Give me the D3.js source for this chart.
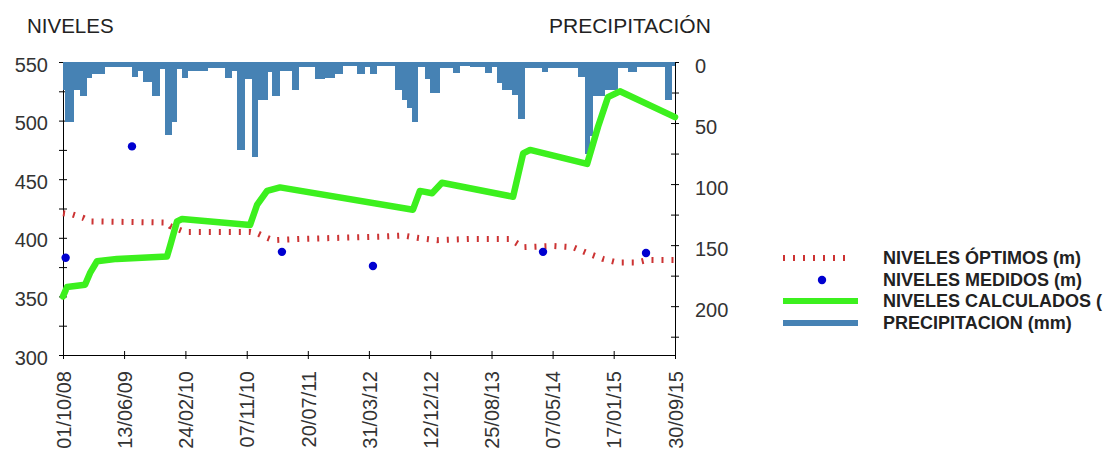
<!DOCTYPE html>
<html><head><meta charset="utf-8">
<script src="https://cdn.jsdelivr.net/npm/d3@7"></script>
<style>
body{margin:0;background:#fff}
svg{display:block}
text{font-family:"Liberation Sans",Arial,sans-serif}
</style>
</head><body>
<svg id="c" width="1119" height="457"></svg>
<script>
// ---------- DATA ----------
const xTickLabels = ["01/10/08","13/06/09","24/02/10","07/11/10","20/07/11","31/03/12","12/12/12","25/08/13","07/05/14","17/01/15","30/09/15"];
const levelTicks = [300,325,350,375,400,425,450,475,500,525,550];
const precipTicks = [0,25,50,75,100,125,150,175,200,225];

const optimoDates = ["2008-10-01","2008-11-08","2008-12-24","2009-01-22","2009-12-09","2009-12-22","2010-02-22","2010-11-21","2010-12-20","2011-01-31","2011-02-25","2011-06-17","2012-05-16","2012-08-21","2012-10-18","2013-01-09","2013-05-27","2013-11-10","2014-01-04","2014-05-09","2014-07-31","2014-09-28","2014-12-03","2015-01-31","2015-04-24","2015-06-05","2015-09-30"];
const optimoValues = [421,420,417,414,413,410,405,405,404,400,398,399,401,402,400,398,399,399,392,393,392,387,382,379,379,381,381];

const medidoDates = ["2008-10-12","2009-07-16","2011-04-03","2012-04-17","2014-03-28","2015-06-01"];
const medidoValues = [383,478,388,376,388,387];

const calcDates = ["2008-10-01","2008-10-18","2009-01-01","2009-01-22","2009-02-20","2009-05-14","2009-12-09","2009-12-22","2010-01-20","2010-02-10","2010-11-21","2010-12-20","2011-01-31","2011-03-26","2012-10-01","2012-10-30","2012-12-20","2013-01-30","2013-11-23","2014-01-04","2014-02-02","2014-09-28","2014-11-13","2014-12-24","2015-02-12","2015-09-30"];
const calcValues = [350,358,360,370,380,382,384,393,414,416,411,428,440,443,424,440,438,447,435,472,475,463,495,520,525,503];

const precipDates = ["2008-10-01","2008-10-09","2008-11-16","2008-12-11","2009-01-09","2009-01-30","2009-03-25","2009-07-16","2009-08-10","2009-08-31","2009-10-08","2009-11-10","2009-12-01","2009-12-30","2010-01-20","2010-02-10","2010-03-07","2010-05-29","2010-08-08","2010-09-07","2010-09-27","2010-10-31","2010-11-29","2010-12-24","2011-02-04","2011-02-21","2011-03-26","2011-05-15","2011-06-13","2011-08-19","2011-09-30","2011-11-11","2011-12-14","2012-02-10","2012-03-15","2012-04-05","2012-05-04","2012-07-18","2012-08-16","2012-09-06","2012-09-27","2012-10-22","2012-11-20","2012-12-11","2013-01-22","2013-03-17","2013-04-15","2013-05-27","2013-07-29","2013-08-27","2013-09-17","2013-10-08","2013-11-19","2013-12-14","2014-01-12","2014-03-24","2014-04-18","2014-08-21","2014-09-19","2014-10-10","2014-10-23","2014-12-12","2015-02-04","2015-03-18","2015-04-24","2015-08-19","2015-09-17"];
const precipValues = [23,49,23,28,13,10,4,12,7,16,28,6,60,49,6,13,7,5,13,7,72,14,78,31,8,28,7,23,4,14,13,10,3,10,4,10,3,23,31,38,49,4,14,25,5,9,3,4,9,4,17,23,27,47,5,8,5,12,75,61,28,23,5,8,4,31,3];

const legendLabels = ["NIVELES ÓPTIMOS (m)","NIVELES MEDIDOS (m)","NIVELES CALCULADOS (","PRECIPITACION (mm)"];

// ---------- CHART ----------
const svg = d3.select("#c");
const pd = d3.timeParse("%Y-%m-%d");
const pl = d3.timeParse("%d/%m/%y");
const L = 63, R = 675, T = 62, B = 355;

const x = d3.scaleTime().domain([pl(xTickLabels[0]), pl(xTickLabels[xTickLabels.length-1])]).range([L, R]);
const yL = d3.scaleLinear().domain([300, 550]).range([B, T]);
const yR = d3.scaleLinear().domain([0, 240]).range([T, B]);

const txt = "#333";

// axes
const gL = svg.append("g").attr("transform", `translate(${L},0)`)
  .call(d3.axisLeft(yL).tickValues(levelTicks).tickSize(0).tickPadding(15)
    .tickFormat(d => d % 50 === 0 ? d : ""));
gL.selectAll(".tick line").attr("x1", -4).attr("x2", 4).attr("stroke", "#000");
gL.select(".domain").attr("stroke", "#000");
gL.selectAll("text").attr("font-size", 20).attr("fill", txt).attr("dy", "0.45em");

const gR = svg.append("g").attr("transform", `translate(${R},0)`)
  .call(d3.axisRight(yR).tickValues(precipTicks).tickSize(0).tickPadding(20)
    .tickFormat(d => d % 50 === 0 ? d : ""));
gR.selectAll(".tick line").attr("x1", -4).attr("x2", 4).attr("stroke", "#000");
gR.select(".domain").attr("stroke", "#000");
gR.selectAll("text").attr("font-size", 20).attr("fill", txt).attr("dy", "0.5em");

const gX = svg.append("g").attr("transform", `translate(0,${B})`)
  .call(d3.axisBottom(x).tickValues(xTickLabels.map(pl)).tickSize(0)
    .tickFormat((d, i) => xTickLabels[i]));
gX.selectAll(".tick line").attr("y1", -4).attr("y2", 4).attr("stroke", "#000");
gX.select(".domain").attr("stroke", "#000");
gX.selectAll("text").attr("font-size", 20).attr("fill", txt)
  .attr("transform", "rotate(-90)").attr("text-anchor", "end")
  .attr("x", -16).attr("y", 0).attr("dy", "0.36em");

// precipitation bars
const pDates = precipDates.map(pd);
const endDate = x.domain()[1];
svg.append("g").selectAll("rect").data(precipValues).join("rect")
  .attr("x", (d, i) => x(pDates[i]))
  .attr("width", (d, i) => x(i + 1 < pDates.length ? pDates[i + 1] : endDate) - x(pDates[i]))
  .attr("y", yR(0))
  .attr("height", d => yR(d) - yR(0))
  .attr("fill", "#4682b4")
  .attr("shape-rendering", "crispEdges");

// optimal levels (dotted red)
const line = d3.line().x(d => x(d[0])).y(d => yL(d[1]));
svg.append("path")
  .datum(optimoDates.map((d, i) => [pd(d), optimoValues[i]]))
  .attr("d", line).attr("fill", "none")
  .attr("stroke", "#cc3333").attr("stroke-width", 6).attr("stroke-dasharray", "2 8");

// calculated levels (green)
svg.append("path")
  .datum(calcDates.map((d, i) => [pd(d), calcValues[i]]))
  .attr("d", line).attr("fill", "none")
  .attr("stroke", "#3cf01e").attr("stroke-width", 6.5)
  .attr("stroke-linejoin", "round").attr("stroke-linecap", "round");

// measured levels (blue dots)
svg.append("g").selectAll("circle").data(medidoValues).join("circle")
  .attr("cx", (d, i) => x(pd(medidoDates[i])))
  .attr("cy", d => yL(d))
  .attr("r", 4.2).attr("fill", "#0000d0");

// titles
svg.append("text").attr("x", 27).attr("y", 33).attr("font-size", 20.5).attr("fill", "#222").text("NIVELES");
svg.append("text").attr("x", 549).attr("y", 33).attr("font-size", 21).attr("fill", "#222").text("PRECIPITACIÓN");

// legend
const ly = [258, 280, 301, 323];
const lg = svg.append("g");
lg.append("line").attr("x1", 783).attr("x2", 852).attr("y1", ly[0]).attr("y2", ly[0])
  .attr("stroke", "#cc3333").attr("stroke-width", 6).attr("stroke-dasharray", "2 8");
lg.append("circle").attr("cx", 822).attr("cy", ly[1]).attr("r", 4.2).attr("fill", "#0000d0");
lg.append("line").attr("x1", 783).attr("x2", 858).attr("y1", ly[2]).attr("y2", ly[2])
  .attr("stroke", "#3cf01e").attr("stroke-width", 6);
lg.append("line").attr("x1", 783).attr("x2", 858).attr("y1", ly[3]).attr("y2", ly[3])
  .attr("stroke", "#4682b4").attr("stroke-width", 6);
lg.selectAll("text.lab").data(legendLabels).join("text").attr("class", "lab")
  .attr("x", 883).attr("y", (d, i) => ly[i]).attr("dy", "0.36em")
  .attr("font-size", 18).attr("font-weight", "bold").attr("fill", "#222")
  .text(d => d);
</script>
</body></html>
